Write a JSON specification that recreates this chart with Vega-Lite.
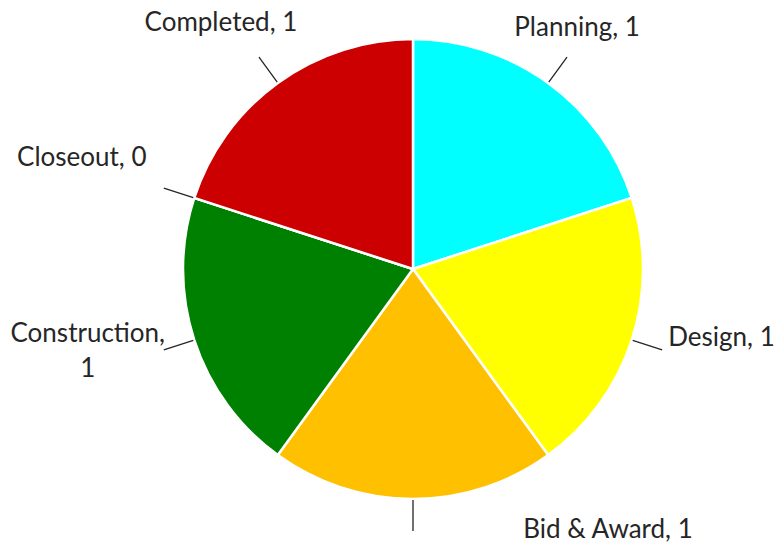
{
  "$schema": "https://vega.github.io/schema/vega-lite/v6.json",
  "width": 726,
  "height": 538,
  "autosize": {"type": "none"},
  "padding": {"left": 50, "top": 0, "right": 0, "bottom": 16},
  "background": "white",
  "config": {"view": {"stroke": null}, "text": {"font": "Lato", "fontSize": 26, "fill": "#262626"}},
  "data": {
    "values": [
      {"idx": 1, "stage": "Planning", "value": 1, "label": "Planning, 1"},
      {"idx": 2, "stage": "Design", "value": 1, "label": "Design, 1"},
      {"idx": 3, "stage": "Bid & Award", "value": 1, "label": "Bid & Award, 1"},
      {"idx": 4, "stage": "Construction", "value": 1, "label": "Construction,\n1"},
      {"idx": 5, "stage": "Closeout", "value": 0, "label": "Closeout, 0"},
      {"idx": 6, "stage": "Completed", "value": 1, "label": "Completed, 1"}
    ]
  },
  "encoding": {
    "theta": {"field": "value", "type": "quantitative", "stack": true},
    "order": {"field": "idx", "type": "quantitative"}
  },
  "layer": [
    {
      "mark": {"type": "arc", "outerRadius": 230, "stroke": "white", "strokeWidth": 2.5},
      "encoding": {
        "color": {
          "field": "stage",
          "type": "nominal",
          "scale": {
            "domain": ["Planning", "Design", "Bid & Award", "Construction", "Closeout", "Completed"],
            "range": ["#00FFFF", "#FFFF00", "#FFC000", "#008000", "#7030A0", "#CC0000"]
          },
          "legend": null
        }
      }
    },
    {
      "mark": {"type": "arc", "innerRadius": 231, "outerRadius": 262, "padAngle": 3, "fillOpacity": 0, "stroke": "#262626", "strokeWidth": 1.3}
    },
    {
      "mark": {"type": "text", "radius": 240, "dx": 23, "dy": -39, "align": "center", "baseline": "alphabetic"},
      "encoding": {"text": {"condition": {"test": "datum.stage === 'Planning'", "field": "label"}, "value": ""}}
    },
    {
      "mark": {"type": "text", "radius": 240, "dx": 27, "dy": 3, "align": "left", "baseline": "alphabetic"},
      "encoding": {"text": {"condition": {"test": "datum.stage === 'Design'", "field": "label"}, "value": ""}}
    },
    {
      "mark": {"type": "text", "radius": 240, "dx": 195, "dy": 29, "align": "center", "baseline": "alphabetic"},
      "encoding": {"text": {"condition": {"test": "datum.stage === 'Bid & Award'", "field": "label"}, "value": ""}}
    },
    {
      "mark": {"type": "text", "radius": 240, "dx": -97, "dy": -1, "align": "center", "baseline": "alphabetic", "lineBreak": "\n", "lineHeight": 35},
      "encoding": {"text": {"condition": {"test": "datum.stage === 'Construction'", "field": "label"}, "value": ""}}
    },
    {
      "mark": {"type": "text", "radius": 240, "dx": -103, "dy": -29, "align": "center", "baseline": "alphabetic"},
      "encoding": {"text": {"condition": {"test": "datum.stage === 'Closeout'", "field": "label"}, "value": ""}}
    },
    {
      "mark": {"type": "text", "radius": 240, "dx": -51, "dy": -44, "align": "center", "baseline": "alphabetic"},
      "encoding": {"text": {"condition": {"test": "datum.stage === 'Completed'", "field": "label"}, "value": ""}}
    }
  ]
}
